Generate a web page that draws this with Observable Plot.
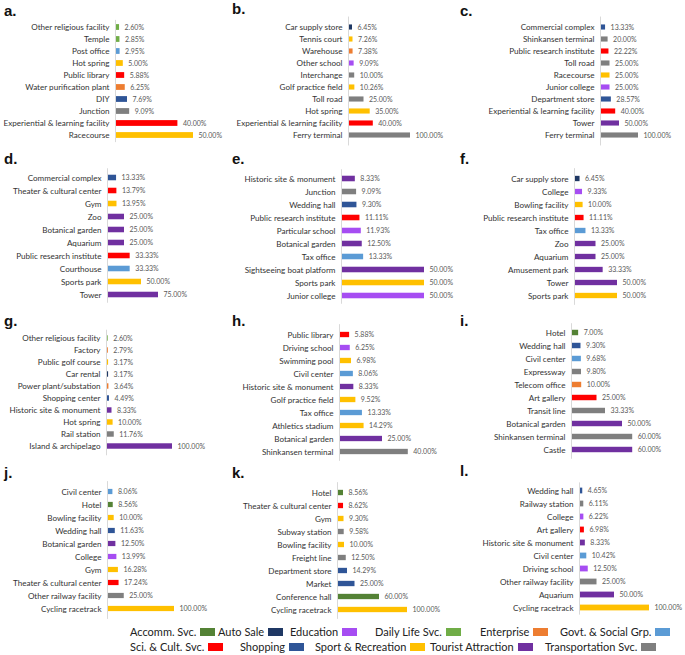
<!DOCTYPE html>
<html>
<head>
<meta charset="utf-8">
<script src="https://cdn.jsdelivr.net/npm/d3@7"></script>
<script src="https://cdn.jsdelivr.net/npm/@observablehq/plot@0.6"></script>
<style>
  html, body { margin: 0; padding: 0; background: #fff; }
  #root { position: relative; width: 685px; height: 655px; overflow: hidden; font-family: Lato, "Open Sans", sans-serif; }
  .panel { position: absolute; }
  .letter { position: absolute; font-family: "Liberation Sans", Arial, sans-serif; font-weight: bold; font-size: 15px; color: #111; }
  .leg { position: absolute; display: flex; align-items: center; font-size: 11px; color: #222; white-space: nowrap; }
  .sw { display: inline-block; width: 15px; height: 8px; margin-left: 4px; }
</style>
</head>
<body>
<div id="root"></div>
<script>
// ---------- data ----------
const groups = ["Accomm. Svc.", "Auto Sale", "Education", "Daily Life Svc.", "Enterprise", "Govt. & Social Grp.",
                "Sci. & Cult. Svc.", "Shopping", "Sport & Recreation", "Tourist Attraction", "Transportation Svc."];
const groupColors = ["#548235", "#1F3864", "#A64DF2", "#70AD47", "#ED7D31", "#5B9BD5",
                     "#FF0000", "#2F5597", "#FFC000", "#7030A0", "#7F7F7F"];

const aLabels = ["Other religious facility","Temple","Post office","Hot spring","Public library","Water purification plant","DIY","Junction","Experiential & learning facility","Racecourse"];
const aValues = [2.60, 2.85, 2.95, 5.00, 5.88, 6.25, 7.69, 9.09, 40.00, 50.00];
const aGroups = ["Daily Life Svc.","Daily Life Svc.","Govt. & Social Grp.","Sport & Recreation","Sci. & Cult. Svc.","Enterprise","Shopping","Transportation Svc.","Sci. & Cult. Svc.","Sport & Recreation"];

const bLabels = ["Car supply store","Tennis court","Warehouse","Other school","Interchange","Golf practice field","Toll road","Hot spring","Experiential & learning facility","Ferry terminal"];
const bValues = [6.45, 7.26, 7.38, 9.09, 10.00, 10.26, 25.00, 35.00, 40.00, 100.00];
const bGroups = ["Auto Sale","Sport & Recreation","Enterprise","Education","Transportation Svc.","Sport & Recreation","Transportation Svc.","Sport & Recreation","Sci. & Cult. Svc.","Transportation Svc."];

const cLabels = ["Commercial complex","Shinkansen terminal","Public research institute","Toll road","Racecourse","Junior college","Department store","Experiential & learning facility","Tower","Ferry terminal"];
const cValues = [13.33, 20.00, 22.22, 25.00, 25.00, 25.00, 28.57, 40.00, 50.00, 100.00];
const cGroups = ["Shopping","Transportation Svc.","Sci. & Cult. Svc.","Transportation Svc.","Sport & Recreation","Education","Shopping","Sci. & Cult. Svc.","Tourist Attraction","Transportation Svc."];

const dLabels = ["Commercial complex","Theater & cultural center","Gym","Zoo","Botanical garden","Aquarium","Public research institute","Courthouse","Sports park","Tower"];
const dValues = [13.33, 13.79, 13.95, 25.00, 25.00, 25.00, 33.33, 33.33, 50.00, 75.00];
const dGroups = ["Shopping","Sci. & Cult. Svc.","Sport & Recreation","Tourist Attraction","Tourist Attraction","Tourist Attraction","Sci. & Cult. Svc.","Govt. & Social Grp.","Sport & Recreation","Tourist Attraction"];

const eLabels = ["Historic site & monument","Junction","Wedding hall","Public research institute","Particular school","Botanical garden","Tax office","Sightseeing boat platform","Sports park","Junior college"];
const eValues = [8.33, 9.09, 9.30, 11.11, 11.93, 12.50, 13.33, 50.00, 50.00, 50.00];
const eGroups = ["Tourist Attraction","Transportation Svc.","Shopping","Sci. & Cult. Svc.","Education","Tourist Attraction","Govt. & Social Grp.","Tourist Attraction","Sport & Recreation","Education"];

const fLabels = ["Car supply store","College","Bowling facility","Public research institute","Tax office","Zoo","Aquarium","Amusement park","Tower","Sports park"];
const fValues = [6.45, 9.33, 10.00, 11.11, 13.33, 25.00, 25.00, 33.33, 50.00, 50.00];
const fGroups = ["Auto Sale","Education","Sport & Recreation","Sci. & Cult. Svc.","Govt. & Social Grp.","Tourist Attraction","Tourist Attraction","Tourist Attraction","Tourist Attraction","Sport & Recreation"];

const gLabels = ["Other religious facility","Factory","Public golf course","Car rental","Power plant/substation","Shopping center","Historic site & monument","Hot spring","Rail station","Island & archipelago"];
const gValues = [2.60, 2.79, 3.17, 3.17, 3.64, 4.49, 8.33, 10.00, 11.76, 100.00];
const gGroups = ["Daily Life Svc.","Enterprise","Sport & Recreation","Auto Sale","Enterprise","Shopping","Tourist Attraction","Sport & Recreation","Transportation Svc.","Tourist Attraction"];

const hLabels = ["Public library","Driving school","Swimming pool","Civil center","Historic site & monument","Golf practice field","Tax office","Athletics stadium","Botanical garden","Shinkansen terminal"];
const hValues = [5.88, 6.25, 6.98, 8.06, 8.33, 9.52, 13.33, 14.29, 25.00, 40.00];
const hGroups = ["Sci. & Cult. Svc.","Education","Sport & Recreation","Govt. & Social Grp.","Tourist Attraction","Sport & Recreation","Govt. & Social Grp.","Sport & Recreation","Tourist Attraction","Transportation Svc."];

const iLabels = ["Hotel","Wedding hall","Civil center","Expressway","Telecom office","Art gallery","Transit line","Botanical garden","Shinkansen terminal","Castle"];
const iValues = [7.00, 9.30, 9.68, 9.80, 10.00, 25.00, 33.33, 50.00, 60.00, 60.00];
const iGroups = ["Accomm. Svc.","Shopping","Govt. & Social Grp.","Transportation Svc.","Enterprise","Sci. & Cult. Svc.","Transportation Svc.","Tourist Attraction","Transportation Svc.","Tourist Attraction"];

const jLabels = ["Civil center","Hotel","Bowling facility","Wedding hall","Botanical garden","College","Gym","Theater & cultural center","Other railway facility","Cycling racetrack"];
const jValues = [8.06, 8.56, 10.00, 11.63, 12.50, 13.99, 16.28, 17.24, 25.00, 100.00];
const jGroups = ["Govt. & Social Grp.","Accomm. Svc.","Sport & Recreation","Shopping","Tourist Attraction","Education","Sport & Recreation","Sci. & Cult. Svc.","Transportation Svc.","Sport & Recreation"];

const kLabels = ["Hotel","Theater & cultural center","Gym","Subway station","Bowling facility","Freight line","Department store","Market","Conference hall","Cycling racetrack"];
const kValues = [8.56, 8.62, 9.30, 9.58, 10.00, 12.50, 14.29, 25.00, 60.00, 100.00];
const kGroups = ["Accomm. Svc.","Sci. & Cult. Svc.","Sport & Recreation","Transportation Svc.","Sport & Recreation","Transportation Svc.","Shopping","Shopping","Accomm. Svc.","Sport & Recreation"];

const lLabels = ["Wedding hall","Railway station","College","Art gallery","Historic site & monument","Civil center","Driving school","Other railway facility","Aquarium","Cycling racetrack"];
const lValues = [4.65, 6.11, 6.22, 6.98, 8.33, 10.42, 12.50, 25.00, 50.00, 100.00];
const lGroups = ["Shopping","Transportation Svc.","Education","Sci. & Cult. Svc.","Tourist Attraction","Govt. & Social Grp.","Education","Transportation Svc.","Tourist Attraction","Sport & Recreation"];

const panelLetters = ["a.","b.","c.","d.","e.","f.","g.","h.","i.","j.","k.","l."];
const panelData = [
  [aLabels,aValues,aGroups],[bLabels,bValues,bGroups],[cLabels,cValues,cGroups],
  [dLabels,dValues,dGroups],[eLabels,eValues,eGroups],[fLabels,fValues,fGroups],
  [gLabels,gValues,gGroups],[hLabels,hValues,hGroups],[iLabels,iValues,iGroups],
  [jLabels,jValues,jGroups],[kLabels,kValues,kGroups],[lLabels,lValues,lGroups]
];

// ---------- layout ----------
const colLeft = [0, 228, 456];
const rowTop = [0, 150, 305, 455];
const rowH = [150, 155, 150, 168];
// per panel: axis x (page px), px per 100%, first bar center y, last bar center y, letter y
const layout = [
  {ax:115, px:156, y0:26,  y1:136, ly:2},
  {ax:348, px:62,  y0:23,  y1:139, ly:0},
  {ax:600, px:38,  y0:23,  y1:139, ly:2},
  {ax:107, px:68,  y0:175, y1:296, ly:150},
  {ax:341, px:166, y0:176, y1:297, ly:150},
  {ax:574, px:86,  y0:175, y1:298, ly:150},
  {ax:106, px:66,  y0:336, y1:449, ly:312},
  {ax:339, px:172, y0:331, y1:454, ly:312},
  {ax:571, px:102, y0:330, y1:452, ly:312},
  {ax:107, px:67,  y0:488, y1:612, ly:464},
  {ax:337, px:70,  y0:489, y1:612, ly:464},
  {ax:579, px:70,  y0:489, y1:608, ly:462}
];

const root = document.getElementById("root");
const color = {domain: groups, range: groupColors};

panelData.forEach(([labels, values, grps], idx) => {
  const col = idx % 3, row = Math.floor(idx / 3);
  const L = layout[idx];
  const left = colLeft[col], top = rowTop[row], H = rowH[row];
  const W = col === 2 ? 229 : 228;
  const n = labels.length;
  const step = (L.y1 - L.y0) / (n - 1);
  const mt = L.y0 - top - step / 2;
  const mb = H - (L.y1 - top + step / 2);
  const ml = L.ax - left;
  const data = labels.map((label, i) => ({label, value: values[i], group: grps[i]}));
  const inset = (step - 6) / 2;

  const svg = Plot.plot({
    width: W, height: H,
    marginLeft: ml, marginRight: 0, marginTop: mt, marginBottom: mb,
    style: {fontFamily: "Lato, 'Open Sans', sans-serif", color: "#333333", background: "transparent", overflow: "visible"},
    x: {domain: [0, 100], range: [ml, ml + L.px], axis: null},
    y: {domain: labels, padding: 0},
    color,
    marks: [
      Plot.barX(data, {x: "value", y: "label", fill: "group", insetTop: inset, insetBottom: inset}),
      Plot.ruleX([0], {stroke: "#D9D9D9", strokeWidth: 1}),
      Plot.text(data, {x: "value", y: "label", text: d => d.value.toFixed(2) + "%", dx: 5, textAnchor: "start", fontSize: 7, fill: "#595959"}),
      Plot.axisY({tickSize: 0, tickPadding: 6, fontSize: 8.1, label: null})
    ]
  });
  svg.classList.add("panel");
  svg.style.left = left + "px";
  svg.style.top = top + "px";
  root.appendChild(svg);

  const letter = document.createElement("div");
  letter.className = "letter";
  letter.textContent = panelLetters[idx];
  letter.style.left = (left + 4) + "px";
  letter.style.top = L.ly + "px";
  root.appendChild(letter);
});

// ---------- legend ----------
const legendPos = [
  [130, 632], [218, 632], [290, 632], [375, 632], [480, 632], [560, 632],
  [130, 647], [240, 647], [315, 647], [430, 647], [545, 647]
];
groups.forEach((g, i) => {
  const item = document.createElement("div");
  item.className = "leg";
  item.style.left = legendPos[i][0] + "px";
  item.style.top = (legendPos[i][1] - 7) + "px";
  const t = document.createElement("span");
  t.textContent = g;
  const sw = document.createElement("span");
  sw.className = "sw";
  sw.style.background = groupColors[i];
  item.appendChild(t);
  item.appendChild(sw);
  root.appendChild(item);
});
</script>
</body>
</html>
